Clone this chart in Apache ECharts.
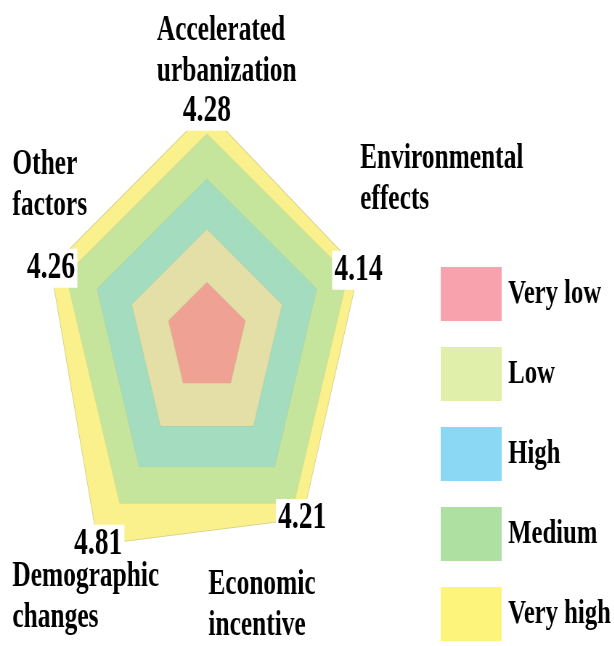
<!DOCTYPE html>
<html lang="en" style="height: 100%">
<head>
  <meta charset="utf-8">
  <style>
    html, body { margin: 0; height: 100%; overflow: hidden; background: #fff; }
    /* the reference picture is squeezed sideways, so draw wider and squeeze */
    #container { width: 846px; height: 646px; transform: scaleX(0.726); transform-origin: 0 0; }
  </style>
</head>
<body>
  <div id="container"></div>
  <script type="text/javascript" src="https://cdn.jsdelivr.net/npm/echarts@6/dist/echarts.min.js"></script>
  <script type="text/javascript">
    // indicators go counter-clockwise from the top in echarts radar
    var indicators = ['Accelerated urbanization', 'Other factors', 'Demographic changes', 'Economic incentive', 'Environmental effects'];
    var levels = ['Very low', 'Low', 'High', 'Medium', 'Very high'];
    var veryLow = [1.05, 1.05, 1.05, 1.05, 1.05];
    var low = [2.05, 2.05, 2.05, 2.05, 2.05];
    var high = [3, 3, 3, 3, 3];
    var medium = [3.85, 3.85, 3.85, 3.85, 3.85];
    var veryHigh = [4.28, 4.26, 4.81, 4.21, 4.14];

    var legendColors = ['#f8a2ae', '#e0efaa', '#8ad8f4', '#aee0a2', '#fdf47c'];
    var bandColors = ['#efa293', '#e3dfa6', '#a3dcbf', '#c6e59c', '#faf08c'];
    var serif = '"Liberation Serif", "Times New Roman", serif';

    var dom = document.getElementById('container');
    var myChart = echarts.init(dom, null, { renderer: 'canvas' });

    var layers = [veryLow, low, high, medium, veryHigh];
    // biggest first so the smaller ones sit on top
    var seriesData = [];
    for (var i = layers.length - 1; i >= 0; i--) {
      var outer = i === 4;
      seriesData.push({
        name: levels[i],
        value: layers[i],
        symbol: 'circle',
        symbolSize: outer ? 1 : 0,
        itemStyle: { color: legendColors[i] },
        areaStyle: { color: bandColors[i], opacity: 1 },
        lineStyle: outer ? { color: '#d2cb88', width: 1.5 } : { color: 'rgba(170,190,140,0.5)', width: 1 },
        label: outer ? {
          show: true,
          position: 'inside',
          formatter: function (p) { return p.value.toFixed(2); },
          backgroundColor: '#fff',
          color: '#000',
          fontFamily: serif,
          fontWeight: 'bold',
          fontSize: 38,
          padding: [1, 3, 0, 3]
        } : { show: false }
      });
    }

    var nameStyle = { fill: '#000', fontFamily: serif, fontWeight: 'bold', fontSize: 35, lineHeight: 41 };
    function nameText(text, left, top) {
      return {
        type: 'text', left: left, top: top, silent: true,
        style: Object.assign({ text: text }, nameStyle)
      };
    }

    var option = {
      backgroundColor: '#fff',
      animation: false,
      legend: {
        data: levels,
        orient: 'vertical',
        left: 602,
        top: 262,
        icon: 'rect',
        itemWidth: 84,
        itemHeight: 54,
        itemGap: 26,
        selectedMode: false,
        itemStyle: { borderWidth: 0 },
        textStyle: {
          color: '#000',
          fontFamily: serif,
          fontWeight: 'bold',
          fontSize: 34,
          padding: [0, 0, 20, 4]
        }
      },
      radar: {
        center: [285, 338],
        radius: 265,
        startAngle: 90,
        shape: 'polygon',
        splitNumber: 5,
        indicator: indicators.map(function (n) { return { name: n, min: 0, max: 5 }; }),
        axisName: { show: false },
        axisLine: { show: false },
        splitLine: { show: false },
        splitArea: { show: false },
        axisTick: { show: false },
        axisLabel: { show: false }
      },
      graphic: [
        nameText('Accelerated\nurbanization', 216, 10),
        nameText('Environmental\neffects', 496, 138),
        nameText('Other\nfactors', 17, 144),
        nameText('Demographic\nchanges', 17, 556),
        nameText('Economic\nincentive', 287, 564)
      ],
      series: [
        {
          type: 'radar',
          silent: true,
          emphasis: { disabled: true },
          data: seriesData
        }
      ]
    };

    myChart.setOption(option);
    window.addEventListener('resize', myChart.resize);
  </script>
</body>
</html>
